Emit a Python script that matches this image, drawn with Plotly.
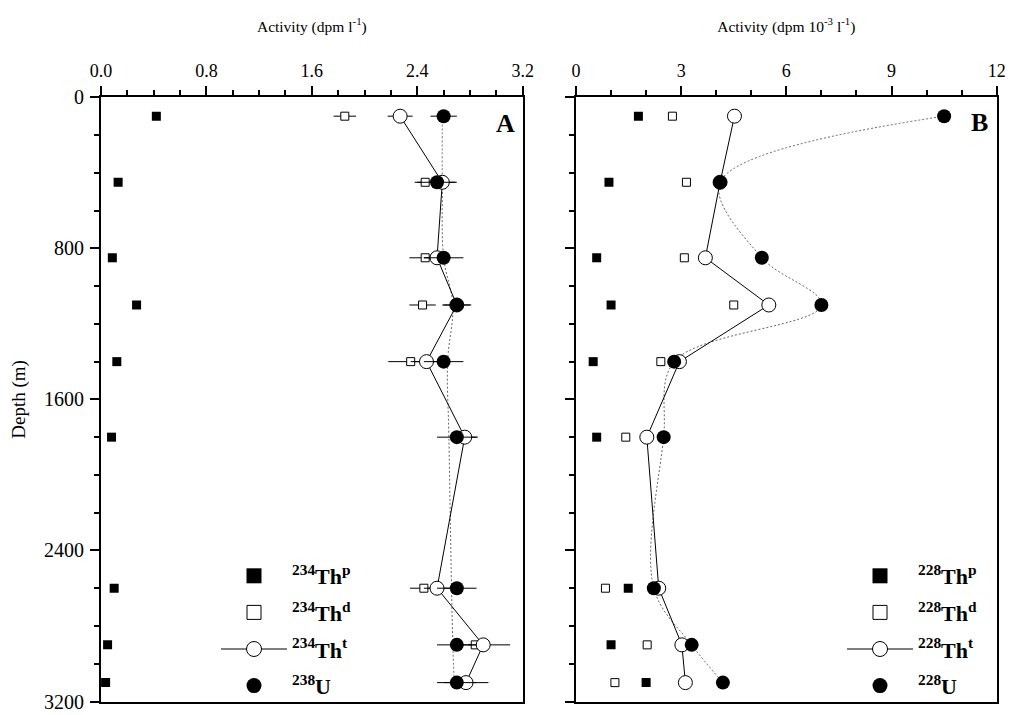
import plotly.graph_objects as go

# ---------------- data ----------------
depths = [100, 450, 850, 1100, 1400, 1800, 2600, 2900, 3100]

# Panel A (dpm l-1)
th234_p = [0.42, 0.13, 0.086, 0.27, 0.12, 0.08, 0.10, 0.05, 0.035]
th234_p_err = [0.0, 0.0, 0.0, 0.03, 0.0, 0.0, 0.0, 0.0, 0.0]
th234_d = [1.85, 2.46, 2.46, 2.44, 2.35, None, 2.45, 2.84, None]
th234_d_err = [0.085, 0.08, 0.12, 0.10, 0.17, 0.0, 0.105, 0.05, 0.0]
th234_t = [2.27, 2.59, 2.55, 2.70, 2.47, 2.76, 2.55, 2.90, 2.77]
th234_t_err = [0.095, 0.10, 0.10, 0.10, 0.12, 0.10, 0.10, 0.205, 0.17]
u238 = [2.60, 2.55, 2.60, 2.70, 2.60, 2.70, 2.70, 2.70, 2.70]
u238_err = [0.10, 0.15, 0.15, 0.11, 0.15, 0.15, 0.15, 0.15, 0.15]
u238_fit = [2.59, 2.59, 2.60, 2.67, 2.63, 2.64, 2.66, 2.67, 2.68]

# Panel B (dpm 10-3 l-1)
th228_p = [1.78, 0.94, 0.59, 1.0, 0.49, 0.59, 1.49, 1.0, 2.0]
th228_d = [2.75, 3.15, 3.09, 4.5, 2.42, 1.42, 0.84, 2.03, 1.11]
th228_t = [4.52, 4.11, 3.69, 5.5, 2.95, 2.02, 2.36, 3.02, 3.12]
u228 = [10.5, 4.11, 5.30, 7.0, 2.80, 2.50, 2.22, 3.30, 4.19]

labels_A = ["<b><sup>234</sup>Th<sup>p</sup></b>", "<b><sup>234</sup>Th<sup>d</sup></b>",
            "<b><sup>234</sup>Th<sup>t</sup></b>", "<b><sup>238</sup>U</b>"]
labels_B = ["<b><sup>228</sup>Th<sup>p</sup></b>", "<b><sup>228</sup>Th<sup>d</sup></b>",
            "<b><sup>228</sup>Th<sup>t</sup></b>", "<b><sup>228</sup>U</b>"]

FONT = "Liberation Serif, Times New Roman, serif"
W, H = 1013, 715

fig = go.Figure()


def err(arr):
    return dict(type="data", array=arr, visible=True, color="black", thickness=1, width=0)


sq_fill = dict(symbol="square", size=9, color="black", line=dict(width=0))
sq_open = dict(symbol="square", size=8, color="white", line=dict(width=1, color="black"))
ci_open = dict(symbol="circle", size=14, color="white", line=dict(width=1, color="black"))
ci_fill = dict(symbol="circle", size=14, color="black", line=dict(width=0))
dotted = dict(color="#666", width=1, dash="2px,2px", shape="spline")

# ---- Panel A ----
fig.add_trace(go.Scatter(x=u238_fit, y=depths, mode="lines", xaxis="x", yaxis="y",
                         line=dotted, showlegend=False, hoverinfo="skip"))
fig.add_trace(go.Scatter(x=th234_p, y=depths, mode="markers", xaxis="x", yaxis="y",
                         marker=sq_fill, error_x=err(th234_p_err), showlegend=False))
fig.add_trace(go.Scatter(x=th234_d, y=depths, mode="markers", xaxis="x", yaxis="y",
                         marker=sq_open, error_x=err(th234_d_err), showlegend=False))
fig.add_trace(go.Scatter(x=th234_t, y=depths, mode="lines+markers", xaxis="x", yaxis="y",
                         marker=ci_open, line=dict(color="black", width=1),
                         error_x=err(th234_t_err), showlegend=False))
fig.add_trace(go.Scatter(x=u238, y=depths, mode="markers", xaxis="x", yaxis="y",
                         marker=ci_fill, error_x=err(u238_err), showlegend=False))

# ---- Panel B ----
fig.add_trace(go.Scatter(x=u228, y=depths, mode="lines", xaxis="x2", yaxis="y2",
                         line=dotted, showlegend=False, hoverinfo="skip"))
fig.add_trace(go.Scatter(x=th228_p, y=depths, mode="markers", xaxis="x2", yaxis="y2",
                         marker=sq_fill, showlegend=False))
fig.add_trace(go.Scatter(x=th228_d, y=depths, mode="markers", xaxis="x2", yaxis="y2",
                         marker=sq_open, showlegend=False))
fig.add_trace(go.Scatter(x=th228_t, y=depths, mode="lines+markers", xaxis="x2", yaxis="y2",
                         marker=ci_open, line=dict(color="black", width=1), showlegend=False))
fig.add_trace(go.Scatter(x=u228, y=depths, mode="markers", xaxis="x2", yaxis="y2",
                         marker=ci_fill, showlegend=False))

# ---- legend entries (larger symbols) ----
leg_markers = [
    (dict(symbol="square", size=15, color="black", line=dict(width=0)), "markers"),
    (dict(symbol="square", size=14, color="white", line=dict(width=1, color="black")), "markers"),
    (dict(symbol="circle", size=15, color="white", line=dict(width=1, color="black")), "lines+markers"),
    (dict(symbol="circle", size=15, color="black", line=dict(width=0)), "markers"),
]
for lg, labels, xa, ya in (("legend", labels_A, "x", "y"), ("legend2", labels_B, "x2", "y2")):
    for i, (mk, mode) in enumerate(leg_markers):
        fig.add_trace(go.Scatter(x=[None], y=[None], mode=mode, xaxis=xa, yaxis=ya,
                                 marker=mk, line=dict(color="black", width=1),
                                 name=labels[i], legend=lg, legendgroup=lg + str(i),
                                 showlegend=True))

# page has an 8px body margin -> positions are given in figure pixels
xdomA = [93 / W, 514.7 / W]
xdomB = [568 / W, 988.7 / W]
ydom = [1 - 693.5 / H, 1 - 89.3 / H]


def xax(dom, rng, dtick, mdtick, fmt, title, anchor):
    return dict(domain=dom, range=rng, side="top", anchor=anchor,
                tickmode="linear", tick0=0, dtick=dtick, tickformat=fmt,
                ticks="outside", ticklen=9, tickwidth=1.5, tickcolor="black",
                minor=dict(dtick=mdtick, tick0=0, ticks="outside", ticklen=5,
                           tickwidth=1.5, tickcolor="black"),
                showline=True, linewidth=2, linecolor="black", mirror=True,
                showgrid=False, zeroline=False,
                tickfont=dict(family=FONT, size=18, color="black"),
                ticklabelstandoff=2,
                title=dict(text=title, font=dict(family=FONT, size=15.5, color="black"),
                           standoff=25),
                automargin=False)


def yax(anchor, labels):
    return dict(domain=ydom, range=[3200, 0], anchor=anchor,
                tickmode="linear", tick0=0, dtick=800,
                ticks="outside", ticklen=9, tickwidth=1.5, tickcolor="black",
                minor=dict(dtick=200, tick0=0, ticks="outside", ticklen=5,
                           tickwidth=1.5, tickcolor="black"),
                showline=True, linewidth=2, linecolor="black", mirror=True,
                showgrid=False, zeroline=False,
                tickfont=dict(family=FONT, size=20, color="black"),
                ticklabelstandoff=2,
                showticklabels=labels, automargin=False)


legstyle = dict(font=dict(family=FONT, size=22, color="black"),
                bgcolor="rgba(0,0,0,0)", borderwidth=0, itemwidth=66,
                xref="paper", yref="paper", xanchor="left", yanchor="top",
                tracegroupgap=5, itemclick=False, itemdoubleclick=False)

fig.update_layout(
    width=W, height=H,
    margin=dict(l=0, r=0, t=0, b=0),
    paper_bgcolor="white", plot_bgcolor="white",
    font=dict(family=FONT, color="black"),
    xaxis=xax(xdomA, [0, 3.2], 0.8, 0.2, ".1f", "Activity (dpm l<sup>-1</sup>)", "y"),
    xaxis2=xax(xdomB, [0, 12], 3, 1, "d", "Activity (dpm 10<sup>-3</sup> l<sup>-1</sup>)", "y2"),
    yaxis=dict(**yax("x", True),
               title=dict(text="Depth (m)", font=dict(family=FONT, size=19, color="black"),
                          standoff=14)),
    yaxis2=yax("x2", False),
    legend=dict(**legstyle, x=208 / W, y=1 - 547 / H),
    legend2=dict(**legstyle, x=834 / W, y=1 - 547 / H),
    annotations=[
        dict(text="<b>A</b>", x=509 / W, y=1 - 115 / H, xref="paper", yref="paper",
             xanchor="right", yanchor="middle", showarrow=False,
             font=dict(family=FONT, size=26, color="black")),
        dict(text="<b>B</b>", x=982 / W, y=1 - 114 / H, xref="paper", yref="paper",
             xanchor="right", yanchor="middle", showarrow=False,
             font=dict(family=FONT, size=26, color="black")),
    ],
)

fig.write_html("out.html")
